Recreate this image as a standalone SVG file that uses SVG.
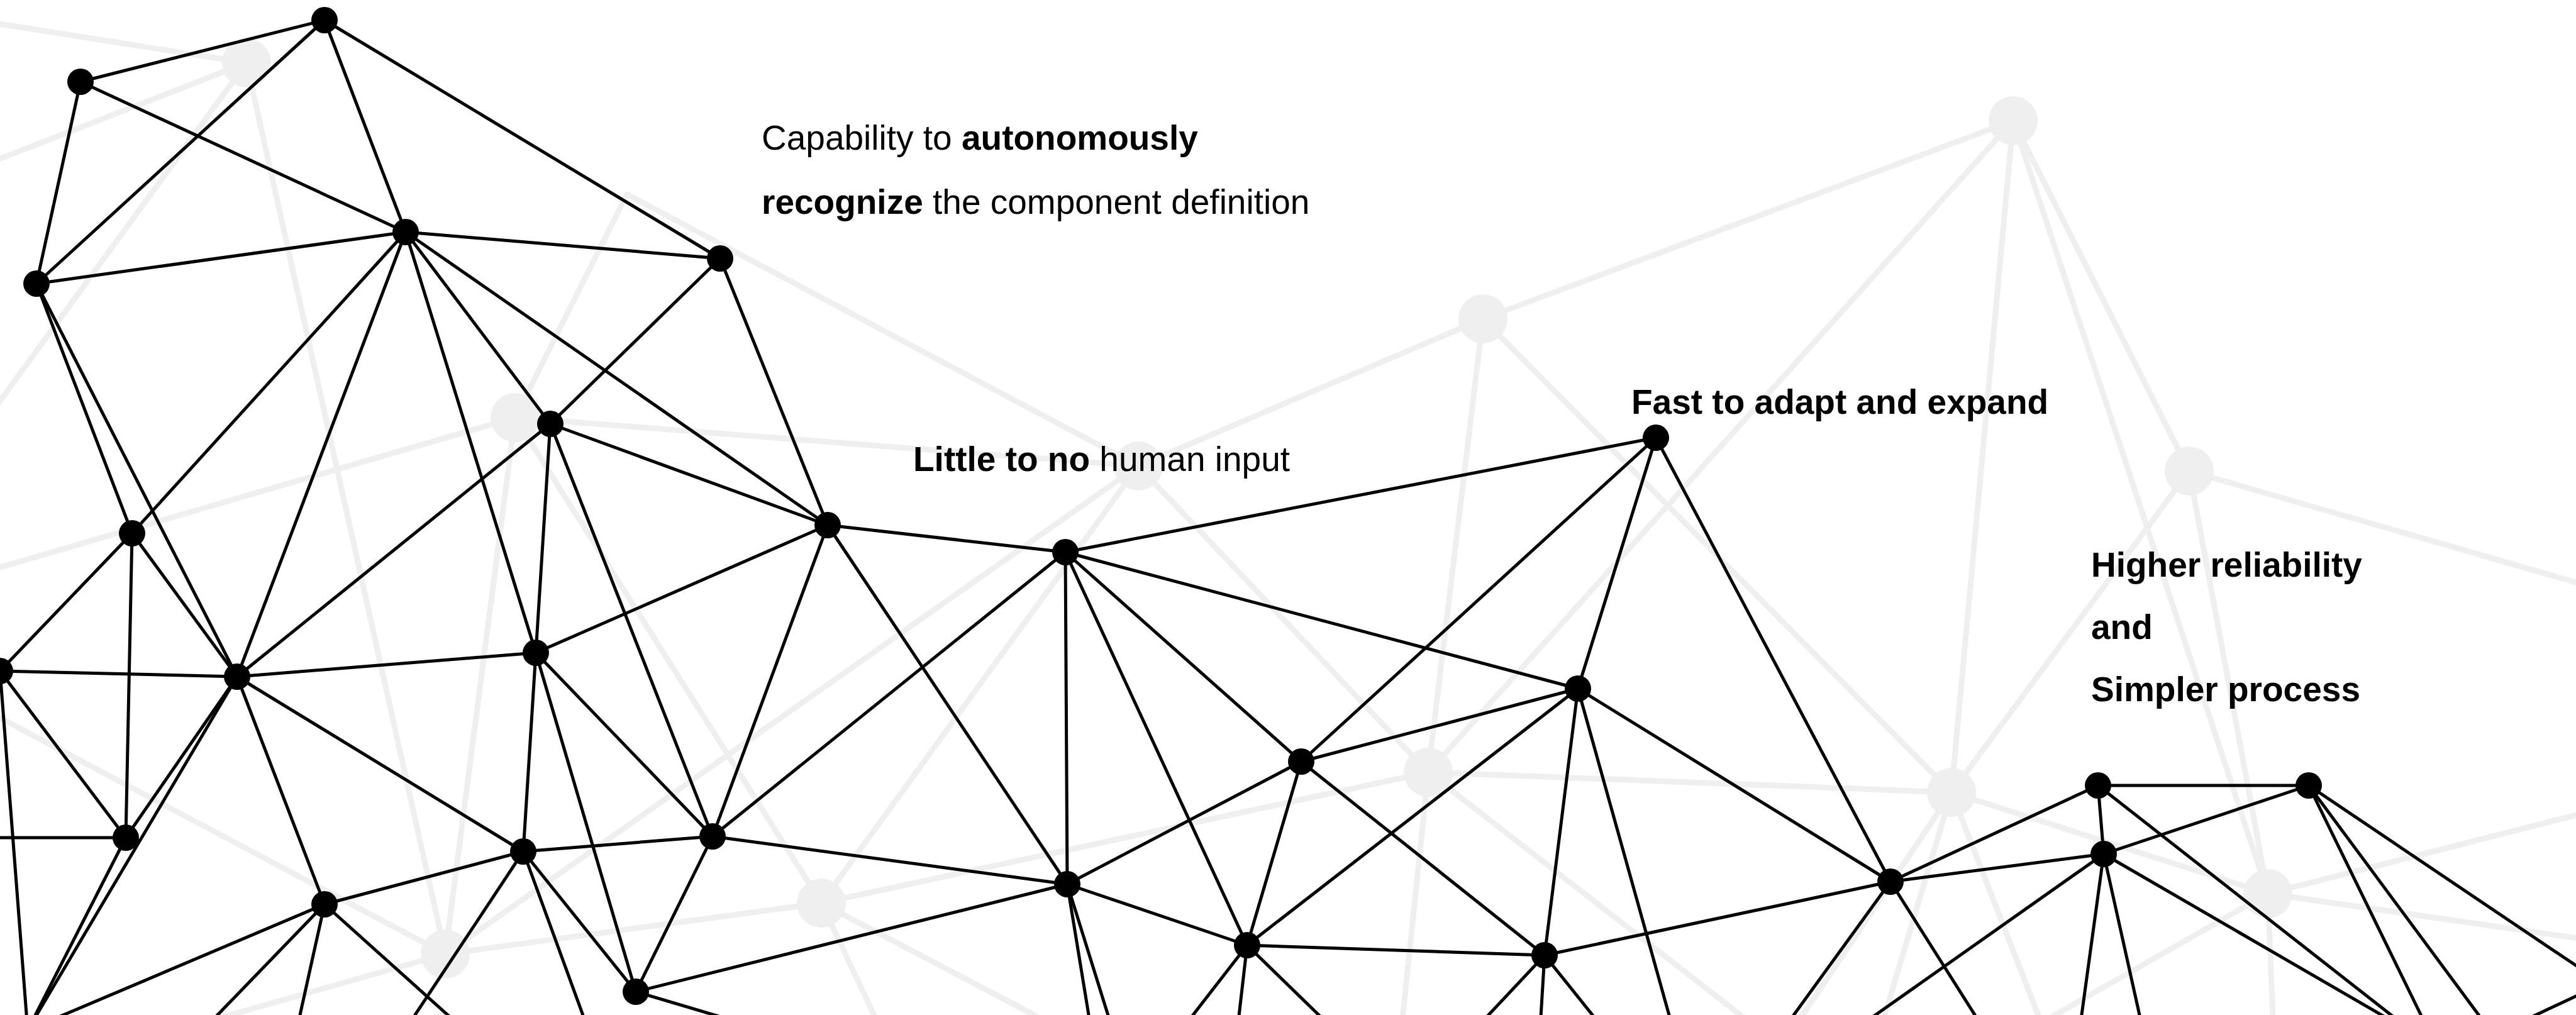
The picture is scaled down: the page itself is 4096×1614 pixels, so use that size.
<svg xmlns="http://www.w3.org/2000/svg" width="4096" height="1614" viewBox="0 0 4096 1614">
  <style>
    .bg-edge { stroke: #efefef; stroke-width: 9; stroke-linecap: round; fill: none; }
    .bg-node { fill: #efefef; }
    .edge { stroke: #000; stroke-width: 5; stroke-linecap: round; fill: none; }
    .node { fill: #000; }
    .label { font-family: "Liberation Sans", Arial, sans-serif; font-size: 55px; fill: #000; }
    .b { font-weight: bold; }
  </style>
  <rect width="4096" height="1614" fill="#fff"/>

  <!-- faint background mesh -->
  <g id="background-mesh">
    <g id="background-links">
      <line class="bg-edge" x1="392" y1="100" x2="-20" y2="35"/>
      <line class="bg-edge" x1="392" y1="100" x2="-20" y2="260"/>
      <line class="bg-edge" x1="392" y1="100" x2="-20" y2="665"/>
      <line class="bg-edge" x1="392" y1="100" x2="708" y2="1517"/>
      <line class="bg-edge" x1="997" y1="309" x2="819" y2="664"/>
      <line class="bg-edge" x1="997" y1="309" x2="1810" y2="741"/>
      <line class="bg-edge" x1="819" y1="664" x2="1810" y2="741"/>
      <line class="bg-edge" x1="819" y1="664" x2="-20" y2="908"/>
      <line class="bg-edge" x1="819" y1="664" x2="708" y2="1517"/>
      <line class="bg-edge" x1="819" y1="664" x2="1306" y2="1436"/>
      <line class="bg-edge" x1="1810" y1="741" x2="2358" y2="507"/>
      <line class="bg-edge" x1="1810" y1="741" x2="708" y2="1517"/>
      <line class="bg-edge" x1="1810" y1="741" x2="1306" y2="1436"/>
      <line class="bg-edge" x1="1810" y1="741" x2="2271" y2="1228"/>
      <line class="bg-edge" x1="2358" y1="507" x2="3201" y2="192"/>
      <line class="bg-edge" x1="2358" y1="507" x2="2271" y2="1228"/>
      <line class="bg-edge" x1="2358" y1="507" x2="3103" y2="1260"/>
      <line class="bg-edge" x1="3201" y1="192" x2="2271" y2="1228"/>
      <line class="bg-edge" x1="3201" y1="192" x2="3103" y2="1260"/>
      <line class="bg-edge" x1="3201" y1="192" x2="3606" y2="1421"/>
      <line class="bg-edge" x1="3201" y1="192" x2="3481" y2="749"/>
      <line class="bg-edge" x1="3481" y1="749" x2="3103" y2="1260"/>
      <line class="bg-edge" x1="3481" y1="749" x2="3606" y2="1421"/>
      <line class="bg-edge" x1="3481" y1="749" x2="4120" y2="933"/>
      <line class="bg-edge" x1="2271" y1="1228" x2="3103" y2="1260"/>
      <line class="bg-edge" x1="2271" y1="1228" x2="1306" y2="1436"/>
      <line class="bg-edge" x1="2271" y1="1228" x2="2228" y2="1640"/>
      <line class="bg-edge" x1="2271" y1="1228" x2="2801" y2="1640"/>
      <line class="bg-edge" x1="3103" y1="1260" x2="3606" y2="1421"/>
      <line class="bg-edge" x1="3103" y1="1260" x2="2849" y2="1640"/>
      <line class="bg-edge" x1="3103" y1="1260" x2="2989" y2="1640"/>
      <line class="bg-edge" x1="3103" y1="1260" x2="3251" y2="1640"/>
      <line class="bg-edge" x1="3606" y1="1421" x2="4120" y2="1290"/>
      <line class="bg-edge" x1="3606" y1="1421" x2="4120" y2="1495"/>
      <line class="bg-edge" x1="3606" y1="1421" x2="3615" y2="1640"/>
      <line class="bg-edge" x1="3606" y1="1421" x2="3222" y2="1640"/>
      <line class="bg-edge" x1="708" y1="1517" x2="-20" y2="1131"/>
      <line class="bg-edge" x1="708" y1="1517" x2="1306" y2="1436"/>
      <line class="bg-edge" x1="708" y1="1517" x2="274" y2="1640"/>
      <line class="bg-edge" x1="1306" y1="1436" x2="1402" y2="1640"/>
      <line class="bg-edge" x1="1306" y1="1436" x2="1694" y2="1640"/>
    </g>
    <g id="background-dots">
      <circle class="bg-node" cx="392" cy="100" r="39"/>
      <circle class="bg-node" cx="819" cy="664" r="39"/>
      <circle class="bg-node" cx="1810" cy="741" r="39"/>
      <circle class="bg-node" cx="2358" cy="507" r="39"/>
      <circle class="bg-node" cx="3201" cy="192" r="39"/>
      <circle class="bg-node" cx="3481" cy="749" r="39"/>
      <circle class="bg-node" cx="3103" cy="1260" r="39"/>
      <circle class="bg-node" cx="3606" cy="1421" r="39"/>
      <circle class="bg-node" cx="2271" cy="1228" r="39"/>
      <circle class="bg-node" cx="1306" cy="1436" r="39"/>
      <circle class="bg-node" cx="708" cy="1517" r="39"/>
    </g>
  </g>

  <!-- connectors of the main network -->
  <g id="connectors">
    <line class="edge" x1="128" y1="130" x2="516" y2="32"/>
    <line class="edge" x1="516" y1="32" x2="58" y2="451"/>
    <line class="edge" x1="516" y1="32" x2="645" y2="369"/>
    <line class="edge" x1="516" y1="32" x2="1145" y2="411"/>
    <line class="edge" x1="128" y1="130" x2="58" y2="451"/>
    <line class="edge" x1="128" y1="130" x2="645" y2="369"/>
    <line class="edge" x1="58" y1="451" x2="645" y2="369"/>
    <line class="edge" x1="645" y1="369" x2="1145" y2="411"/>
    <line class="edge" x1="58" y1="451" x2="210" y2="848"/>
    <line class="edge" x1="58" y1="451" x2="377" y2="1076"/>
    <line class="edge" x1="645" y1="369" x2="210" y2="848"/>
    <line class="edge" x1="645" y1="369" x2="377" y2="1076"/>
    <line class="edge" x1="645" y1="369" x2="852" y2="1038"/>
    <line class="edge" x1="645" y1="369" x2="875" y2="674"/>
    <line class="edge" x1="645" y1="369" x2="1316" y2="835"/>
    <line class="edge" x1="1145" y1="411" x2="875" y2="674"/>
    <line class="edge" x1="1145" y1="411" x2="1316" y2="835"/>
    <line class="edge" x1="875" y1="674" x2="1316" y2="835"/>
    <line class="edge" x1="875" y1="674" x2="377" y2="1076"/>
    <line class="edge" x1="875" y1="674" x2="852" y2="1038"/>
    <line class="edge" x1="875" y1="674" x2="1133" y2="1330"/>
    <line class="edge" x1="1316" y1="835" x2="1694" y2="878"/>
    <line class="edge" x1="1316" y1="835" x2="852" y2="1038"/>
    <line class="edge" x1="1316" y1="835" x2="1133" y2="1330"/>
    <line class="edge" x1="1316" y1="835" x2="1697" y2="1406"/>
    <line class="edge" x1="1694" y1="878" x2="2633" y2="696"/>
    <line class="edge" x1="1694" y1="878" x2="2509" y2="1095"/>
    <line class="edge" x1="1694" y1="878" x2="2069" y2="1211"/>
    <line class="edge" x1="1694" y1="878" x2="1697" y2="1406"/>
    <line class="edge" x1="1694" y1="878" x2="1983" y2="1503"/>
    <line class="edge" x1="1694" y1="878" x2="1133" y2="1330"/>
    <line class="edge" x1="2633" y1="696" x2="2069" y2="1211"/>
    <line class="edge" x1="2633" y1="696" x2="2509" y2="1095"/>
    <line class="edge" x1="2633" y1="696" x2="3006" y2="1402"/>
    <line class="edge" x1="210" y1="848" x2="0" y2="1067"/>
    <line class="edge" x1="210" y1="848" x2="377" y2="1076"/>
    <line class="edge" x1="210" y1="848" x2="200" y2="1332"/>
    <line class="edge" x1="0" y1="1067" x2="377" y2="1076"/>
    <line class="edge" x1="0" y1="1067" x2="200" y2="1332"/>
    <line class="edge" x1="0" y1="1067" x2="44" y2="1638"/>
    <line class="edge" x1="377" y1="1076" x2="852" y2="1038"/>
    <line class="edge" x1="377" y1="1076" x2="200" y2="1332"/>
    <line class="edge" x1="377" y1="1076" x2="516" y2="1438"/>
    <line class="edge" x1="377" y1="1076" x2="832" y2="1354"/>
    <line class="edge" x1="377" y1="1076" x2="44" y2="1638"/>
    <line class="edge" x1="200" y1="1332" x2="44" y2="1638"/>
    <line class="edge" x1="516" y1="1438" x2="44" y2="1638"/>
    <line class="edge" x1="852" y1="1038" x2="832" y2="1354"/>
    <line class="edge" x1="852" y1="1038" x2="1133" y2="1330"/>
    <line class="edge" x1="852" y1="1038" x2="1011" y2="1577"/>
    <line class="edge" x1="832" y1="1354" x2="1133" y2="1330"/>
    <line class="edge" x1="832" y1="1354" x2="516" y2="1438"/>
    <line class="edge" x1="832" y1="1354" x2="1011" y2="1577"/>
    <line class="edge" x1="1133" y1="1330" x2="1697" y2="1406"/>
    <line class="edge" x1="1133" y1="1330" x2="1011" y2="1577"/>
    <line class="edge" x1="1697" y1="1406" x2="2069" y2="1211"/>
    <line class="edge" x1="1697" y1="1406" x2="1011" y2="1577"/>
    <line class="edge" x1="1697" y1="1406" x2="1983" y2="1503"/>
    <line class="edge" x1="2069" y1="1211" x2="2509" y2="1095"/>
    <line class="edge" x1="2069" y1="1211" x2="1983" y2="1503"/>
    <line class="edge" x1="2069" y1="1211" x2="2456" y2="1519"/>
    <line class="edge" x1="2509" y1="1095" x2="1983" y2="1503"/>
    <line class="edge" x1="2509" y1="1095" x2="2456" y2="1519"/>
    <line class="edge" x1="2509" y1="1095" x2="3006" y2="1402"/>
    <line class="edge" x1="1983" y1="1503" x2="2456" y2="1519"/>
    <line class="edge" x1="2456" y1="1519" x2="3006" y2="1402"/>
    <line class="edge" x1="3006" y1="1402" x2="3336" y2="1249"/>
    <line class="edge" x1="3006" y1="1402" x2="3345" y2="1358"/>
    <line class="edge" x1="3336" y1="1249" x2="3671" y2="1249"/>
    <line class="edge" x1="3336" y1="1249" x2="3345" y2="1358"/>
    <line class="edge" x1="3671" y1="1249" x2="3345" y2="1358"/>
    <!-- links running past the frame -->
    <line class="edge" x1="200" y1="1332" x2="-40" y2="1332"/>
    <line class="edge" x1="832" y1="1354" x2="636" y2="1650"/>
    <line class="edge" x1="832" y1="1354" x2="940" y2="1650"/>
    <line class="edge" x1="516" y1="1438" x2="311" y2="1650"/>
    <line class="edge" x1="516" y1="1438" x2="469" y2="1650"/>
    <line class="edge" x1="516" y1="1438" x2="752" y2="1650"/>
    <line class="edge" x1="1011" y1="1577" x2="1190" y2="1630"/>
    <line class="edge" x1="1697" y1="1406" x2="1737" y2="1650"/>
    <line class="edge" x1="1697" y1="1406" x2="1773" y2="1650"/>
    <line class="edge" x1="1983" y1="1503" x2="1869" y2="1650"/>
    <line class="edge" x1="1983" y1="1503" x2="1966" y2="1650"/>
    <line class="edge" x1="1983" y1="1503" x2="2134" y2="1650"/>
    <line class="edge" x1="2456" y1="1519" x2="2333" y2="1650"/>
    <line class="edge" x1="2456" y1="1519" x2="2448" y2="1650"/>
    <line class="edge" x1="2456" y1="1519" x2="2561" y2="1650"/>
    <line class="edge" x1="2509" y1="1095" x2="2664" y2="1650"/>
    <line class="edge" x1="3006" y1="1402" x2="2826" y2="1650"/>
    <line class="edge" x1="3006" y1="1402" x2="3163" y2="1650"/>
    <line class="edge" x1="3345" y1="1358" x2="2931" y2="1650"/>
    <line class="edge" x1="3345" y1="1358" x2="3305" y2="1650"/>
    <line class="edge" x1="3345" y1="1358" x2="3410" y2="1650"/>
    <line class="edge" x1="3345" y1="1358" x2="3849" y2="1650"/>
    <line class="edge" x1="3336" y1="1249" x2="3848" y2="1650"/>
    <line class="edge" x1="3671" y1="1249" x2="3867" y2="1650"/>
    <line class="edge" x1="3671" y1="1249" x2="3968" y2="1650"/>
    <line class="edge" x1="3671" y1="1249" x2="4140" y2="1565"/>
    <line class="edge" x1="4000" y1="1629" x2="4130" y2="1568"/>
  </g>

  <!-- nodes -->
  <g id="n1"><circle class="node" cx="516" cy="32" r="21"/></g>
  <g id="n2"><circle class="node" cx="128" cy="130" r="21"/></g>
  <g id="n3"><circle class="node" cx="645" cy="369" r="21"/></g>
  <g id="n4"><circle class="node" cx="1145" cy="411" r="21"/></g>
  <g id="n5"><circle class="node" cx="58" cy="451" r="21"/></g>
  <g id="n6"><circle class="node" cx="875" cy="674" r="21"/></g>
  <g id="n7"><circle class="node" cx="1316" cy="835" r="21"/></g>
  <g id="n8"><circle class="node" cx="1694" cy="878" r="21"/></g>
  <g id="n9"><circle class="node" cx="2633" cy="696" r="21"/></g>
  <g id="n10"><circle class="node" cx="210" cy="848" r="21"/></g>
  <g id="n11"><circle class="node" cx="0" cy="1067" r="21"/></g>
  <g id="n12"><circle class="node" cx="377" cy="1076" r="21"/></g>
  <g id="n13"><circle class="node" cx="852" cy="1038" r="21"/></g>
  <g id="n14"><circle class="node" cx="2509" cy="1095" r="21"/></g>
  <g id="n15"><circle class="node" cx="2069" cy="1211" r="21"/></g>
  <g id="n16"><circle class="node" cx="200" cy="1332" r="21"/></g>
  <g id="n17"><circle class="node" cx="832" cy="1354" r="21"/></g>
  <g id="n18"><circle class="node" cx="1133" cy="1330" r="21"/></g>
  <g id="n19"><circle class="node" cx="1697" cy="1406" r="21"/></g>
  <g id="n20"><circle class="node" cx="3006" cy="1402" r="21"/></g>
  <g id="n21"><circle class="node" cx="3336" cy="1249" r="21"/></g>
  <g id="n22"><circle class="node" cx="3671" cy="1249" r="21"/></g>
  <g id="n23"><circle class="node" cx="3345" cy="1358" r="21"/></g>
  <g id="n24"><circle class="node" cx="516" cy="1438" r="21"/></g>
  <g id="n25"><circle class="node" cx="1983" cy="1503" r="21"/></g>
  <g id="n26"><circle class="node" cx="2456" cy="1519" r="21"/></g>
  <g id="n27"><circle class="node" cx="1011" cy="1577" r="21"/></g>
  <g id="n28"><circle class="node" cx="44" cy="1638" r="21"/></g>

  <!-- captions -->
  <g id="caption-recognize">
    <text class="label" x="1211" y="238">Capability to <tspan class="b">autonomously</tspan></text>
    <text class="label" x="1211" y="340"><tspan class="b">recognize</tspan> the component definition</text>
  </g>
  <g id="caption-input">
    <text class="label" x="1452" y="749"><tspan class="b">Little to no</tspan> human input</text>
  </g>
  <g id="caption-adapt">
    <text class="label b" x="2594" y="658">Fast to adapt and expand</text>
  </g>
  <g id="caption-reliability">
    <text class="label b" x="3325" y="917">Higher reliability</text>
    <text class="label b" x="3325" y="1016">and</text>
    <text class="label b" x="3325" y="1115">Simpler process</text>
  </g>
</svg>
